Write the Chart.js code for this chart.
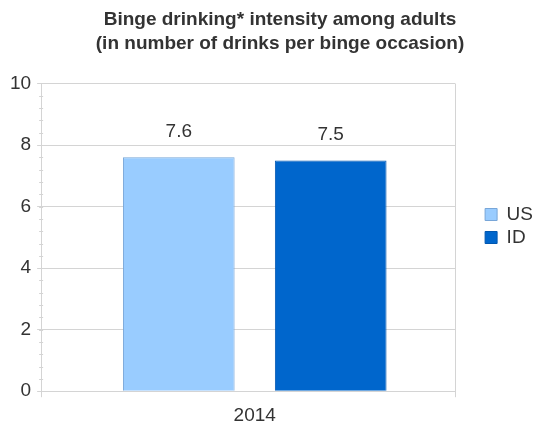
<!DOCTYPE html>
<html>
<head>
<meta charset="utf-8">
<script src="https://cdn.jsdelivr.net/npm/chart.js@4.4.0/dist/chart.umd.min.js"></script>
<style>
  html, body { margin: 0; padding: 0; background: #fff; }
  #wrap { width: 537px; height: 426px; }
</style>
</head>
<body>
<div id="wrap"><canvas id="chart" width="537" height="426"></canvas></div>
<script>
const categories = ['2014'];
const seriesNames = ['US', 'ID'];
const usValues = [7.6];
const idValues = [7.5];
const yTicks = [0, 2, 4, 6, 8, 10];

const FONT = '"Liberation Sans", Arial, sans-serif';
const GRID = '#d4d4d4';

// value labels above bars
const valueLabels = {
  id: 'valueLabels',
  afterDatasetsDraw(chart) {
    const c = chart.ctx;
    c.save();
    c.font = '19px ' + FONT;
    c.fillStyle = '#333';
    c.textAlign = 'center';
    c.textBaseline = 'middle';
    chart.data.datasets.forEach((ds, i) => {
      chart.getDatasetMeta(i).data.forEach((bar, j) => {
        c.fillText(ds.data[j].toFixed(1), bar.x, bar.y - 26);
      });
    });
    c.restore();
  }
};

// minor ticks on the y axis and the right frame line
const frame = {
  id: 'frame',
  beforeDatasetsDraw(chart) {
    const y = chart.scales.y;
    const a = chart.chartArea;
    const c = chart.ctx;
    c.save();
    c.strokeStyle = GRID;
    c.lineWidth = 1;
    const rx = Math.round(a.right) + 0.5;
    c.beginPath();
    c.moveTo(rx, a.top);
    c.lineTo(rx, a.bottom + 6);
    c.stroke();
    for (let v = 0; v <= 10.001; v += 0.4) {
      const py = Math.round(y.getPixelForValue(v)) + 0.5;
      c.beginPath();
      c.moveTo(a.left - 2, py);
      c.lineTo(a.left + 2, py);
      c.stroke();
    }
    c.restore();
  }
};

// leave a gap between the plot and the legend, nudge title and legend
const legendGap = {
  id: 'legendGap',
  beforeInit(chart) {
    const fit = chart.legend.fit;
    chart.legend.fit = function () {
      fit.call(this);
      this.width += 20;
    };
  },
  afterLayout(chart) {
    chart.legend.left += 26;
    chart.legend.top += 9;
    chart.legend.bottom += 9;
    chart.titleBlock.left += 19;
  }
};

new Chart(document.getElementById('chart'), {
  type: 'bar',
  data: {
    labels: categories,
    datasets: [
      {
        label: seriesNames[0],
        data: usValues,
        backgroundColor: '#99ccff',
        borderColor: '#78a6d8',
        borderWidth: 1,
        categoryPercentage: 0.734,
        barPercentage: 0.735
      },
      {
        label: seriesNames[1],
        data: idValues,
        backgroundColor: '#0066cc',
        borderColor: '#0057b0',
        borderWidth: 1,
        categoryPercentage: 0.734,
        barPercentage: 0.735
      }
    ]
  },
  options: {
    responsive: false,
    animation: false,
    layout: { padding: { top: 0, right: 0, bottom: -8, left: 4 } },
    plugins: {
      title: {
        display: true,
        text: ['Binge drinking* intensity among adults', '(in number of drinks per binge occasion)'],
        color: '#333',
        font: { family: FONT, size: 19, weight: 'bold', lineHeight: 1.25 },
        padding: { top: 8, bottom: 28 }
      },
      legend: {
        position: 'right',
        labels: {
          boxWidth: 12,
          boxHeight: 12,
          padding: 4,
          color: '#333',
          font: { family: FONT, size: 19 }
        }
      },
      tooltip: { enabled: false }
    },
    scales: {
      x: {
        // the group sits a little right of the plot centre
        afterBuildTicks(scale) { scale._startValue -= 0.016; },
        grid: { color: GRID, tickLength: 6, offset: true },
        border: { color: GRID },
        ticks: {
          color: '#333',
          padding: 7,
          font: { family: FONT, size: 19 }
        }
      },
      y: {
        min: 0,
        max: 10,
        afterBuildTicks(scale) { scale.ticks = yTicks.map(v => ({ value: v })); },
        grid: { color: GRID, tickLength: 4 },
        border: { color: GRID },
        ticks: {
          color: '#333',
          padding: 6,
          font: { family: FONT, size: 19 }
        }
      }
    }
  },
  plugins: [valueLabels, frame, legendGap]
});
</script>
</body>
</html>
